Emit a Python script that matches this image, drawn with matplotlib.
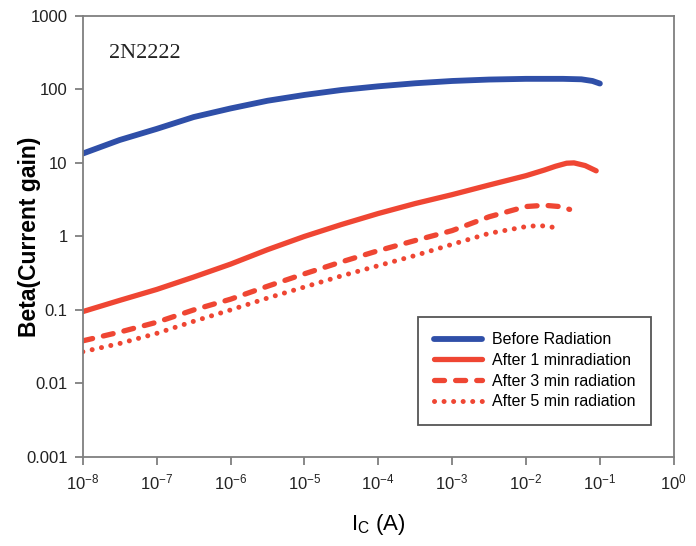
import numpy as np
import matplotlib
matplotlib.use("Agg")
import matplotlib.pyplot as plt
from matplotlib.ticker import LogFormatterMathtext, NullLocator

plt.rcParams['font.family'] = ['Liberation Sans', 'DejaVu Sans']
plt.rcParams['mathtext.fontset'] = 'custom'
plt.rcParams['mathtext.rm'] = 'Liberation Sans'
plt.rcParams['mathtext.it'] = 'Liberation Sans'
plt.rcParams['mathtext.default'] = 'regular'

# collector current exponents (log10 of Ic in A) and current gain
before_exp = [-8, -7.5, -7, -6.5, -6, -5.5, -5, -4.5, -4, -3.5, -3, -2.5, -2, -1.5, -1.25, -1.1, -1.0]
before_beta = [13.4, 20.5, 29, 42, 55, 70, 84, 98, 110, 121, 130, 136, 139, 139, 137, 130, 120]

after1_exp = [-8, -7.5, -7, -6.5, -6, -5.5, -5, -4.5, -4, -3.5, -3, -2.5, -2, -1.75, -1.6, -1.45, -1.35, -1.2, -1.05]
after1_beta = [0.095, 0.135, 0.19, 0.28, 0.42, 0.66, 1.0, 1.45, 2.05, 2.8, 3.7, 5.0, 6.7, 8.0, 9.0, 9.9, 10.0, 9.2, 7.8]

after3_exp = [-8, -7.5, -7, -6.5, -6, -5.5, -5, -4.5, -4, -3.5, -3, -2.5, -2, -1.75, -1.55, -1.41]
after3_beta = [0.038, 0.05, 0.068, 0.1, 0.14, 0.21, 0.31, 0.45, 0.64, 0.88, 1.2, 1.85, 2.55, 2.65, 2.55, 2.33]

after5_exp = [-8, -7.5, -7, -6.5, -6, -5.5, -5, -4.5, -4, -3.5, -3, -2.5, -2, -1.85, -1.7, -1.56]
after5_beta = [0.027, 0.035, 0.048, 0.07, 0.1, 0.145, 0.205, 0.29, 0.4, 0.55, 0.78, 1.1, 1.36, 1.4, 1.38, 1.27]

labels = ['Before Radiation', 'After 1 minradiation', 'After 3 min radiation', 'After 5 min radiation']
xtick_vals = [1e-8, 1e-7, 1e-6, 1e-5, 1e-4, 1e-3, 1e-2, 1e-1, 1e0]
ytick_vals = [0.001, 0.01, 0.1, 1, 10, 100, 1000]
ytick_labels = ['0.001', '0.01', '0.1', '1', '10', '100', '1000']

blue = '#2f4fa8'
red = '#ef4633'
grey = '#7f7f7f'

fig = plt.figure(figsize=(6.96, 5.46), dpi=100)
ax = fig.add_axes([0.119, 0.163, 0.849, 0.808])

ax.plot(10.0 ** np.array(before_exp), before_beta, color=blue, lw=4.2,
        solid_capstyle='round', solid_joinstyle='round', label=labels[0])
ax.plot(10.0 ** np.array(after1_exp), after1_beta, color=red, lw=3.8,
        solid_capstyle='round', solid_joinstyle='round', label=labels[1])
ax.plot(10.0 ** np.array(after3_exp), after3_beta, color=red, lw=3.8,
        linestyle=(0, (1.9, 2.1)), dash_capstyle='round', label=labels[2])
ax.plot(10.0 ** np.array(after5_exp), after5_beta, color=red, lw=3.6,
        linestyle=(0, (0.01, 1.9)), dash_capstyle='round', label=labels[3])

ax.set_xscale('log')
ax.set_yscale('log')
ax.set_xlim(1e-8, 1)
ax.set_ylim(0.001, 1000)

ax.set_xticks(xtick_vals)
ax.xaxis.set_major_formatter(LogFormatterMathtext())
ax.xaxis.set_minor_locator(NullLocator())
ax.set_yticks(ytick_vals)
ax.set_yticklabels(ytick_labels)
ax.yaxis.set_minor_locator(NullLocator())

for s in ax.spines.values():
    s.set_color(grey)
    s.set_linewidth(1.3)
ax.tick_params(axis='both', direction='out', length=6, width=1.3, color=grey,
               labelsize=12, labelcolor='#222222', pad=5)

ax.set_ylabel('Beta(Current gain)', fontsize=16.5, fontweight='bold')
ax.yaxis.set_label_coords(-0.07, 0.5)
ax.set_xlabel(r'I$_C$ (A)', fontsize=16, labelpad=14)

ax.text(0.045, 0.905, '2N2222', transform=ax.transAxes, fontsize=16,
        family='Liberation Serif', color='#222222')

leg = ax.legend(loc='lower right', bbox_to_anchor=(0.962, 0.072), borderaxespad=0,
                fontsize=11.5, handlelength=3.0, handletextpad=0.6,
                labelspacing=0.35, borderpad=1.0, fancybox=False, framealpha=1)
leg.get_frame().set_edgecolor('#555555')
leg.get_frame().set_linewidth(1.3)

fig.savefig('out.png', dpi=100)
